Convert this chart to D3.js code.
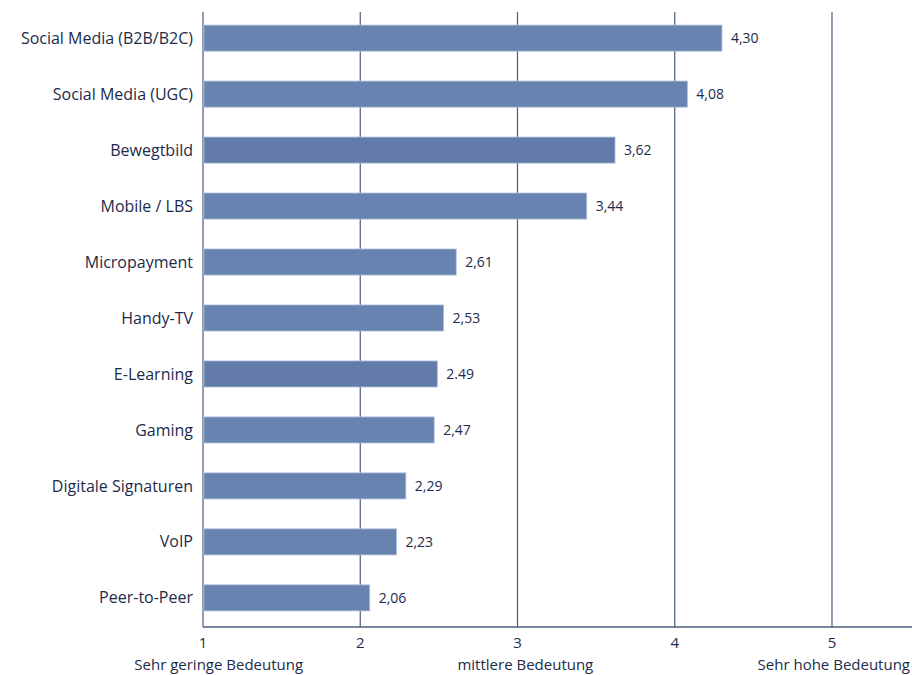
<!DOCTYPE html>
<html>
<head>
<meta charset="utf-8">
<script src="https://cdn.jsdelivr.net/npm/d3@7"></script>
<style>
  body { margin: 0; background: #fff; }
  svg { display: block; font-family: "Open Sans", Lato, sans-serif; }
</style>
</head>
<body>
<div id="chart"></div>
<script>
/* DATA */
const categories = ["Social Media (B2B/B2C)", "Social Media (UGC)", "Bewegtbild", "Mobile / LBS",
  "Micropayment", "Handy-TV", "E-Learning", "Gaming", "Digitale Signaturen", "VoIP", "Peer-to-Peer"];
const values = [4.30, 4.08, 3.62, 3.44, 2.61, 2.53, 2.49, 2.47, 2.29, 2.23, 2.06];
const valueLabels = ["4,30", "4,08", "3,62", "3,44", "2,61", "2,53", "2.49", "2,47", "2,29", "2,23", "2,06"];
const darker = ["Bewegtbild", "E-Learning"];
const ticks = [1, 2, 3, 4, 5];
const scaleLabels = [
  { v: 1.1, text: "Sehr geringe Bedeutung", anchor: "middle" },
  { v: 3.05, text: "mittlere Bedeutung", anchor: "middle" },
  { v: 5.5, text: "Sehr hohe Bedeutung", anchor: "end" }
];

/* CONSTANTS */
const width = 912, height = 675;
const margin = { top: 12, axisY: 627 };

const svg = d3.select("#chart").append("svg")
  .attr("width", width).attr("height", height);

const x = d3.scaleLinear().domain([1, 5]).range([203, 832]);
const y = d3.scaleBand().domain(categories).range([10, 626]).paddingInner(0.535).paddingOuter(0.27);

const ink = "#1c2b4a";

// grid lines
svg.selectAll("line.grid")
  .data(ticks)
  .join("line")
  .attr("class", "grid")
  .attr("x1", d => x(d)).attr("x2", d => x(d))
  .attr("y1", margin.top).attr("y2", margin.axisY)
  .attr("stroke", "#4d5d78")
  .attr("stroke-width", 1.2);

// bottom axis line
svg.append("line")
  .attr("x1", x(1)).attr("x2", width)
  .attr("y1", margin.axisY).attr("y2", margin.axisY)
  .attr("stroke", "#4d5d78").attr("stroke-width", 1.4);

// bars
svg.selectAll("rect.bar")
  .data(categories)
  .join("rect")
  .attr("class", "bar")
  .attr("x", x(1) + 1)
  .attr("y", d => y(d))
  .attr("width", (d, i) => x(values[i]) - x(1) - 1)
  .attr("height", y.bandwidth())
  .attr("fill", d => darker.includes(d) ? "#627ba8" : "#6983b0")
  .attr("stroke", "#a9bcd8")
  .attr("stroke-width", 0.8);

// category labels
svg.selectAll("text.cat")
  .data(categories)
  .join("text")
  .attr("class", "cat")
  .attr("x", 193)
  .attr("y", d => y(d) + y.bandwidth() / 2)
  .attr("dy", "0.35em")
  .attr("text-anchor", "end")
  .attr("font-size", 16)
  .attr("fill", ink)
  .text(d => d);

// value labels
svg.selectAll("text.val")
  .data(categories)
  .join("text")
  .attr("class", "val")
  .attr("x", (d, i) => x(values[i]) + 9)
  .attr("y", d => y(d) + y.bandwidth() / 2)
  .attr("dy", "0.35em")
  .attr("font-size", 14)
  .attr("fill", ink)
  .text((d, i) => valueLabels[i]);

// tick labels
svg.selectAll("text.tick")
  .data(ticks)
  .join("text")
  .attr("class", "tick")
  .attr("x", d => x(d))
  .attr("y", 648)
  .attr("text-anchor", "middle")
  .attr("font-size", 15)
  .attr("fill", ink)
  .text(d => d);

// scale descriptions
svg.selectAll("text.desc")
  .data(scaleLabels)
  .join("text")
  .attr("class", "desc")
  .attr("x", d => Math.min(x(d.v), width - 2))
  .attr("y", 670)
  .attr("text-anchor", d => d.anchor)
  .attr("font-size", 15)
  .attr("fill", ink)
  .text(d => d.text);
</script>
</body>
</html>
